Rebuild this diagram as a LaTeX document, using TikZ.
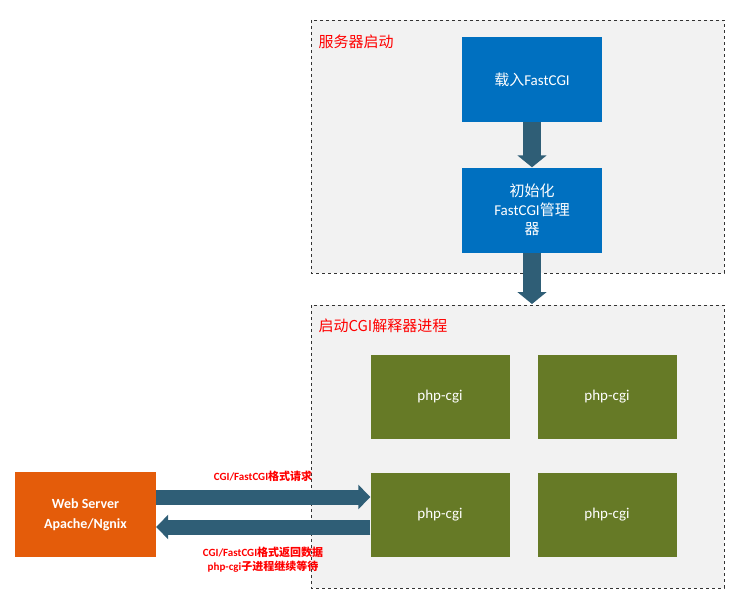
\documentclass[tikz,border=0pt]{standalone}
\usepackage{fontspec}
\setmainfont{Carlito}
\newfontfamily\cjk{Noto Sans CJK SC}
\usetikzlibrary{arrows.meta}
\definecolor{boxgray}{RGB}{242,242,242}
\definecolor{fcblue}{RGB}{0,112,192}
\definecolor{cgigreen}{RGB}{102,122,38}
\definecolor{weborange}{RGB}{228,92,10}
\definecolor{flowteal}{RGB}{47,94,118}
\tikzset{
  stage/.style={draw=black!80,dashed,fill=boxgray,line width=0.8pt},
  stagelabel/.style={anchor=west,text=red,font=\cjk\fontsize{15}{18}\selectfont},
  fcstep/.style={fill=fcblue,text=white,minimum width=140pt,minimum height=85pt,align=center,font=\fontsize{15}{19}\selectfont},
  worker/.style={fill=cgigreen,text=white,minimum width=139pt,minimum height=84pt,font=\fontsize{15}{18}\selectfont},
  flow/.style={draw=flowteal,line width=#1,-{Triangle[length=12pt,width=1.6*#1]}},
  msg/.style={text=red,font=\bfseries\fontsize{11}{14}\selectfont,align=center}
}
\begin{document}
\begin{tikzpicture}[x=1pt,y=-1pt]
  \useasboundingbox (0,0) rectangle (755,602);
  % stages
  \draw[stage] (311,20) rectangle (724,273);
  \draw[stage] (311,305) rectangle (724,588);
  \node[stagelabel] (boot) at (315,42) {服务器启动};
  \node[stagelabel] (spawn) at (315,326) {启动CGI解释器进程};
  % startup steps
  \node[fcstep] (load) at (532,79.5) {{\cjk 载入}FastCGI};
  \node[fcstep] (init) at (532,210) {{\cjk 初始化}\\FastCGI{\cjk 管理}\\{\cjk 器}};
  \coordinate (spawntop) at (532,304);
  \draw[flow=18pt] (load) -- (init);
  \draw[flow=18pt] (init) -- (spawntop);
  % workers
  \node[worker] (w1) at (440,396.5) {php-cgi};
  \node[worker] (w2) at (607,396.5) {php-cgi};
  \node[worker] (w3) at (440,515) {php-cgi};
  \node[worker] (w4) at (607,515) {php-cgi};
  % web server
  \node[fill=weborange,text=white,minimum width=141pt,minimum height=85pt,align=center,
        font=\bfseries\fontsize{14}{20}\selectfont] (web) at (85.5,514.5) {Web Server\\Apache/Ngnix};
  \draw[flow=15pt] (web.east|-0,497) -- (w3.west|-0,497);
  \draw[flow=15pt] (w3.west|-0,527) -- (web.east|-0,527);
  \node[msg] (req) at (263,476) {CGI/FastCGI{\cjk 格式请求}};
  \node[msg] (resp) at (263,560) {CGI/FastCGI{\cjk 格式返回数据}\\php-cgi{\cjk 子进程继续等待}};
\end{tikzpicture}
\end{document}
